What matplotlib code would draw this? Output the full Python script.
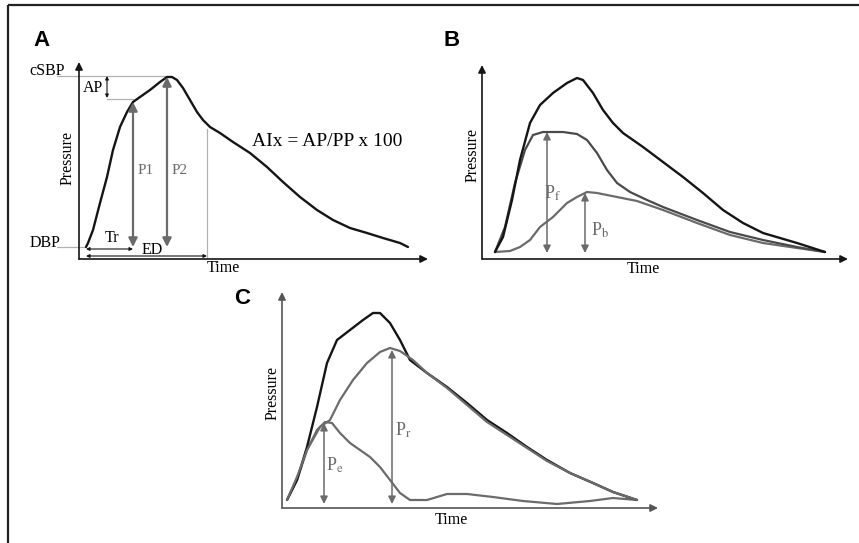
import matplotlib.pyplot as plt

plt.rcParams['font.family'] = ['Liberation Serif', 'DejaVu Serif']
plt.rcParams['mathtext.fontset'] = 'stix'
plt.rcParams['lines.solid_joinstyle'] = 'round'
plt.rcParams['lines.solid_capstyle'] = 'round'

W, H = 859, 543
BLACK = '#151515'
GRAY = '#6b6b6b'
LIGHT = '#b0b0b0'

# ---- Panel A : central pressure waveform (time, pressure)
a_t = [7, 9, 14, 21, 28, 34, 41, 48, 54, 61, 71, 81, 88, 93, 98, 104, 111, 118,
       124, 131, 141, 154, 171, 188, 204, 221, 238, 254, 271, 288, 304, 321, 329]
a_p = [12, 16, 29, 56, 82, 109, 132, 147, 157, 162, 169, 177, 182, 182, 179, 171,
       159, 147, 139, 132, 126, 117, 106, 92, 77, 62, 49, 39, 31, 26, 21, 16, 12]
a_csbp, a_dbp, a_inflect = 183, 12, 160
a_t_start, a_t_p1, a_t_p2, a_t_ed = 7, 54, 88, 128

# ---- Panel B : forward / backward wave separation
b_t = [13, 21, 30, 38, 48, 58, 71, 85, 95, 101, 111, 121, 131, 141, 161, 181,
       201, 221, 241, 261, 281, 315, 343]
b_p = [7, 22, 59, 99, 136, 154, 166, 176, 181, 179, 166, 149, 136, 126, 112, 97,
       82, 66, 49, 36, 26, 16, 7]
pf_t = [13, 23, 33, 43, 51, 61, 81, 95, 105, 115, 125, 135, 148, 165, 181, 215,
        248, 281, 315, 343]
pf_p = [7, 32, 76, 109, 124, 127, 127, 125, 119, 106, 89, 76, 67, 59, 52, 39,
        27, 19, 12, 7]
pb_t = [13, 28, 38, 48, 58, 71, 85, 95, 105, 115, 135, 155, 181, 215, 248, 281,
        315, 343]
pb_p = [7, 8, 12, 19, 32, 42, 56, 62, 67, 66, 62, 58, 49, 36, 24, 16, 11, 7]
b_t_pf, b_t_pb = 65, 103

# ---- Panel C : reservoir / excess pressure
c_t = [5, 15, 25, 35, 45, 55, 68, 81, 91, 98, 108, 118, 128, 145, 165, 185, 205,
       225, 245, 265, 288, 311, 331, 355]
c_p = [8, 28, 61, 101, 145, 168, 178, 188, 195, 195, 185, 168, 148, 135, 121,
       105, 88, 75, 61, 48, 35, 25, 16, 8]
pr_t = [5, 15, 25, 38, 48, 58, 71, 85, 98, 108, 118, 131, 145, 165, 185, 205,
        225, 245, 265, 288, 311, 331, 355]
pr_p = [8, 31, 58, 81, 88, 108, 128, 145, 156, 160, 157, 148, 135, 120, 103, 86,
        73, 60, 47, 35, 25, 16, 8]
pe_t = [5, 15, 25, 35, 43, 50, 58, 68, 78, 88, 98, 108, 118, 128, 145, 165, 185,
        211, 241, 275, 308, 331, 355]
pe_p = [8, 28, 58, 78, 86, 85, 75, 65, 58, 51, 41, 28, 15, 8, 8, 14, 14, 11, 7,
        4, 7, 10, 8]
c_t_pe, c_t_pr = 42, 110

fig = plt.figure(figsize=(W / 100, H / 100), dpi=100)

# frame lines (top and left only)
bg = fig.add_axes([0, 0, 1, 1])
bg.set_xlim(0, W)
bg.set_ylim(H, 0)
bg.axis('off')
bg.plot([8, W], [5, 5], color='#222222', lw=1.6, solid_capstyle='butt')
bg.plot([8, 8], [5, H], color='#222222', lw=1.6, solid_capstyle='butt')


def panel(x0, y0):
    ax = fig.add_axes([0, 0, 1, 1])
    ax.set_xlim(-x0, W - x0)
    ax.set_ylim(y0 - H, y0)
    ax.axis('off')
    ax.patch.set_alpha(0)
    return ax


def arrow(ax, p1, p2, style, color, lw, ms):
    ax.annotate('', xy=p2, xytext=p1,
                arrowprops=dict(arrowstyle=style, color=color, lw=lw,
                                mutation_scale=ms, shrinkA=0, shrinkB=0))


def axes_arrows(ax, tmax, pmax, color):
    arrow(ax, (0, 0), (tmax, 0), '-|>', color, 1.2, 11)
    arrow(ax, (0, 0), (0, pmax), '-|>', color, 1.2, 11)


def labels(ax, letter, lpos, ppos, tpos):
    ax.text(*lpos, letter, fontsize=16, fontweight='bold', family='Liberation Sans',
            ha='center', va='center')
    ax.text(*ppos, 'Pressure', fontsize=11.5, rotation=90, ha='center', va='center')
    ax.text(*tpos, 'Time', fontsize=11.5, ha='center', va='center')


# ---------------- A
ax = panel(79, 259)
axes_arrows(ax, 349, 197, BLACK)
labels(ax, 'A', (-37, 219), (-11, 101), (144, -9))
ax.plot([-22, 88], [a_csbp, a_csbp], color=LIGHT, lw=0.9)
ax.plot([-22, a_t_start], [a_dbp, a_dbp], color=LIGHT, lw=0.9)
ax.plot([28, a_t_p1], [a_inflect, a_inflect], color=LIGHT, lw=0.9)
ax.plot([a_t_ed, a_t_ed], [2, 130], color=LIGHT, lw=0.9)
ax.plot(a_t, a_p, color=BLACK, lw=1.7)
arrow(ax, (a_t_p1, a_dbp), (a_t_p1, 157), '<|-|>', GRAY, 1.6, 13)
arrow(ax, (a_t_p2, a_dbp), (a_t_p2, a_csbp - 1), '<|-|>', GRAY, 1.6, 13)
arrow(ax, (28, a_inflect + 1), (28, a_csbp), '<|-|>', BLACK, 0.8, 5)
arrow(ax, (a_t_start, 10), (a_t_p1, 10), '<|-|>', BLACK, 0.8, 5)
arrow(ax, (a_t_start, 3), (a_t_ed, 3), '<|-|>', BLACK, 0.8, 5)
ax.text(-32, 188, 'cSBP', fontsize=11.5, ha='center', va='center')
ax.text(-34, 16, 'DBP', fontsize=11.5, ha='center', va='center')
ax.text(14, 171, 'AP', fontsize=11.5, ha='center', va='center')
ax.text(33, 21, 'Tr', fontsize=11.5, ha='center', va='center')
ax.text(73, 9, 'ED', fontsize=11.5, ha='center', va='center')
ax.text(67, 89, 'P1', fontsize=11, color=GRAY, ha='center', va='center')
ax.text(101, 89, 'P2', fontsize=11, color=GRAY, ha='center', va='center')
ax.text(248, 117, 'AIx = AP/PP x 100', fontsize=14, ha='center', va='center')

# ---------------- B
ax = panel(482, 259)
axes_arrows(ax, 366, 194, BLACK)
labels(ax, 'B', (-30, 219), (-9, 104), (161, -10))
ax.plot(pb_t, pb_p, color=GRAY, lw=1.6)
ax.plot(pf_t, pf_p, color='#4a4a4a', lw=1.6)
ax.plot(b_t, b_p, color=BLACK, lw=1.7)
arrow(ax, (b_t_pf, 6), (b_t_pf, 127), '<|-|>', GRAY, 1.1, 11)
arrow(ax, (b_t_pb, 6), (b_t_pb, 66), '<|-|>', GRAY, 1.1, 11)
ax.text(71, 66, r'P$_\mathrm{f}$', fontsize=13, color=GRAY, ha='center', va='center')
ax.text(118, 29, r'P$_\mathrm{b}$', fontsize=13, color=GRAY, ha='center', va='center')

# ---------------- C
ax = panel(282, 508)
axes_arrows(ax, 376, 216, '#555555')
labels(ax, 'C', (-40, 209), (-9, 115), (169, -12))
ax.plot(pe_t, pe_p, color=GRAY, lw=1.6)
ax.plot(c_t, c_p, color=BLACK, lw=1.7)
ax.plot(pr_t, pr_p, color=GRAY, lw=1.6)
arrow(ax, (c_t_pe, 4), (c_t_pe, 85), '<|-|>', GRAY, 1.1, 11)
arrow(ax, (c_t_pr, 4), (c_t_pr, 158), '<|-|>', GRAY, 1.1, 11)
ax.text(53, 43, r'P$_\mathrm{e}$', fontsize=13, color=GRAY, ha='center', va='center')
ax.text(121, 78, r'P$_\mathrm{r}$', fontsize=13, color=GRAY, ha='center', va='center')

fig.savefig('out.png', dpi=100)
